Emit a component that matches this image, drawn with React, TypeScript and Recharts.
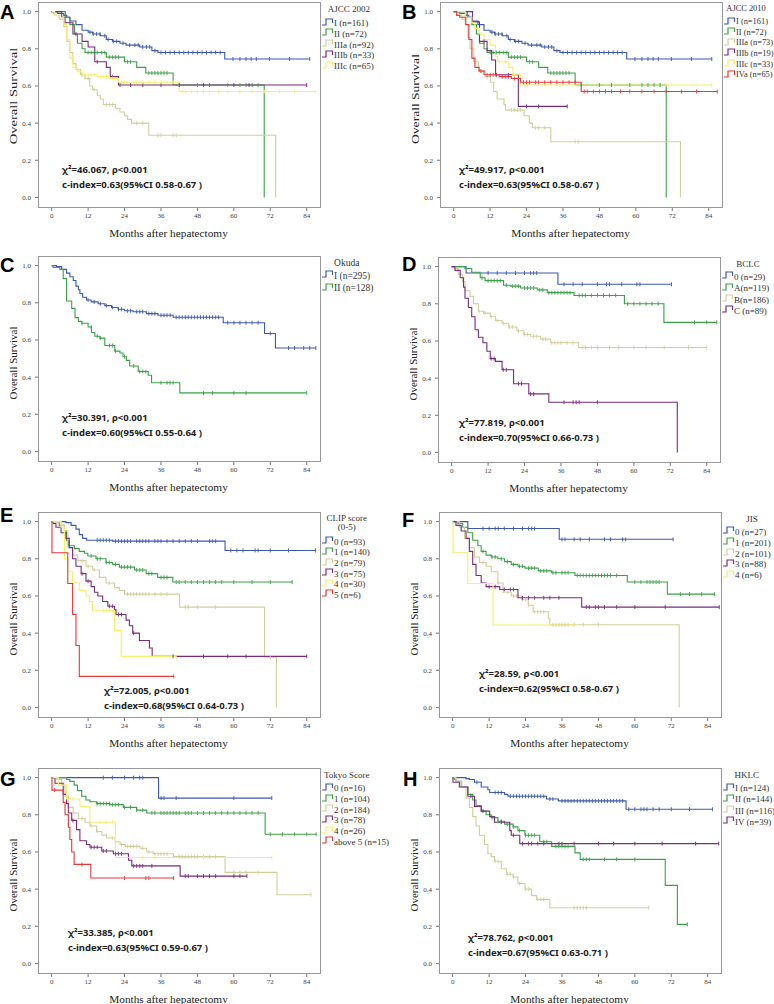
import { LineChart, Line, XAxis, YAxis } from "recharts"

// step points are [month, survival]; censor lists are months
const A_I = [[0, 1], [2, 0.99], [4, 0.98], [5, 0.97], [6, 0.95], [8, 0.93], [10, 0.9], [12, 0.89], [13.5, 0.88], [16, 0.87], [18, 0.85], [20, 0.84], [22.5, 0.83], [24.5, 0.82], [29, 0.81], [33, 0.79], [35, 0.78], [57, 0.745]]
const A_I_c = [12.6, 13.7, 14.8, 15.9, 17.5, 18.6, 20.3, 21.4, 23.5, 25.7, 27.4, 28.5, 30, 31.2, 32.3, 34, 36, 37.5, 39, 40.5, 42, 43.5, 45, 46.5, 48, 49.5, 51, 52.5, 54, 55.5, 59.7, 62, 64, 65.7, 67.4, 71.7, 78.3, 85]
const A_II = [[0, 1], [4.5, 0.97], [6, 0.93], [7.5, 0.88], [8.5, 0.83], [10, 0.8], [11, 0.78], [18, 0.755], [24, 0.73], [28, 0.7], [31, 0.67], [40, 0.605], [70, 0]]
const A_II_c = [12, 13, 14, 15, 16.5, 17.5, 19, 20, 21, 22, 25, 26, 32, 33, 34, 35, 36, 37, 38, 42, 48, 52, 58, 62, 64, 66, 68]
const A_IIIa = [[0, 1], [0.5, 0.99], [1, 0.98], [2.5, 0.96], [4, 0.92], [5, 0.84], [6, 0.78], [7, 0.72], [8, 0.69], [9.5, 0.66], [11, 0.64], [12.5, 0.6], [13.5, 0.58], [15, 0.55], [16, 0.53], [17, 0.5], [21, 0.48], [22.5, 0.46], [24, 0.44], [25, 0.42], [26.3, 0.4], [32, 0.335], [73.8, 0]]
const A_IIIa_c = [10, 12, 14, 18, 19, 20, 28, 30, 35, 36, 40, 41]
const A_IIIb = [[0, 1], [3.3, 0.97], [4.4, 0.94], [7, 0.88], [10, 0.84], [12, 0.81], [14.2, 0.73], [18, 0.7], [19.3, 0.65], [22, 0.605]]
const A_IIIb_c = [8, 15, 20, 22.5, 26, 30, 36, 42, 50, 60, 65, 84]
const A_IIIc = [[0, 1], [1, 0.98], [2, 0.97], [4, 0.93], [5, 0.85], [6, 0.75], [7, 0.7], [8.4, 0.68], [10, 0.66], [15, 0.65], [19, 0.64], [22, 0.62], [42, 0.57]]
const A_IIIc_c = [9, 11, 12, 13, 14, 16, 17, 18, 20, 23, 24, 25, 27, 28, 30, 32, 34, 36, 38, 40, 43, 44, 46, 48, 50, 52, 55, 58, 62, 66, 70, 75, 80, 86.8]

const B_IIIa = [[0, 1], [1, 0.98], [2.7, 0.96], [3.8, 0.93], [4.7, 0.86], [5.4, 0.8], [6.6, 0.73], [8.2, 0.68], [10.4, 0.65], [12.1, 0.62], [13.2, 0.57], [14.3, 0.53], [16.6, 0.5], [17.1, 0.47], [23.2, 0.44], [24.9, 0.4], [26, 0.375], [32, 0.3], [74.7, 0]]
const B_IIIa_c = [9, 11, 19, 20, 21, 22, 27, 28, 30, 40, 41]
const B_IIIb = [[0, 1], [6.2, 0.945], [8.5, 0.84], [11, 0.79], [12.5, 0.74], [13.8, 0.66], [21.3, 0.49]]
const B_IIIb_c = [10, 14, 18, 24, 28, 37.4]
const B_IIIc = [[0, 1], [3.8, 0.97], [6, 0.94], [7, 0.91], [8.5, 0.88], [10, 0.85], [12, 0.82], [13.8, 0.76], [14.5, 0.73], [18, 0.7], [19.5, 0.66], [22, 0.605]]
const B_IIIc_c = [9, 15, 17, 20, 24, 30, 35, 40, 50, 60, 70, 85]

const C_I = [[0, 1], [1.6, 0.995], [3.3, 0.98], [4.9, 0.96], [6, 0.94], [7.1, 0.92], [8, 0.89], [8.8, 0.87], [9.3, 0.85], [10.2, 0.83], [11.5, 0.815], [13, 0.805], [15.3, 0.795], [17.5, 0.785], [19.7, 0.775], [21.9, 0.765], [24, 0.757], [26.8, 0.752], [31.2, 0.742], [35, 0.733], [40, 0.722], [56.5, 0.693], [70.1, 0.635], [73.7, 0.557]]
const C_I_c = [12, 14, 16, 18, 20, 22, 23, 25, 26, 28, 29, 30, 32, 33, 34, 36, 37, 38, 39, 41, 42, 43, 44, 45, 46, 47, 48, 49, 50, 51, 52, 53, 54, 55, 58, 60, 62, 64, 66, 68, 72, 78, 80, 83, 85, 87]
const C_II = [[0, 1], [0.5, 0.99], [2.7, 0.98], [3.8, 0.93], [4.9, 0.81], [6.6, 0.77], [7.7, 0.72], [8.8, 0.7], [9.9, 0.69], [12, 0.67], [13.1, 0.64], [14.2, 0.62], [15.9, 0.61], [17.5, 0.57], [20.8, 0.54], [22.5, 0.53], [23.5, 0.51], [24.6, 0.49], [25.7, 0.46], [28.5, 0.43], [31.8, 0.41], [32.9, 0.37], [42.2, 0.315]]
const C_II_c = [10, 13, 15, 16, 19, 20, 21, 24, 27, 29, 30, 31, 36, 38, 39, 40, 50, 53, 60, 64, 84]

const D_0 = [[0, 1], [4.75, 0.966], [35, 0.905]]
const D_0_c = [12, 15, 18, 21, 24, 26, 27, 28, 37, 40, 43, 48, 51, 52, 56, 61, 62, 72.4]
const D_A = [[0, 1], [4.4, 0.99], [6.6, 0.97], [9.4, 0.94], [11, 0.925], [17.1, 0.9], [19.3, 0.895], [22.7, 0.885], [28.2, 0.875], [31.5, 0.86], [40.3, 0.845], [56.9, 0.8], [69.9, 0.7]]
const D_A_c = [10, 12, 13, 14, 15, 16, 18, 20, 21, 22, 24, 25, 26, 27, 29, 30, 32, 33, 34, 35, 36, 37, 38, 39, 42, 43, 44, 46, 48, 50, 52, 54, 58, 60, 62, 64, 66, 68, 80, 84, 87.3]
const D_B = [[0, 1], [1.1, 0.99], [2.2, 0.96], [3.6, 0.92], [4.4, 0.87], [6, 0.84], [7.2, 0.8], [8.8, 0.76], [10.5, 0.75], [12.7, 0.73], [14.4, 0.71], [16.6, 0.695], [18.8, 0.675], [21.5, 0.655], [23.8, 0.635], [26, 0.625], [29.3, 0.61], [32.6, 0.59], [41.8, 0.565]]
const D_B_c = [9, 11, 13, 15, 17, 19, 20, 22, 24, 25, 27, 28, 30, 31, 33, 34, 35, 36, 38, 40, 43, 44, 46, 48, 52, 55, 60, 64, 70, 78, 84]
const D_C = [[0, 1], [1.1, 0.98], [2.8, 0.94], [3.9, 0.89], [4.4, 0.83], [5.5, 0.78], [6.6, 0.73], [7.7, 0.66], [8.8, 0.62], [10.3, 0.59], [11.6, 0.545], [12.7, 0.505], [14.4, 0.49], [16.6, 0.445], [20.4, 0.37], [25.4, 0.315], [32, 0.27], [74.3, 0]]
const D_C_c = [13, 14, 17, 18, 22, 23, 26, 27, 37, 40, 41, 42, 48]

const E_0 = [[0, 1], [4.7, 0.995], [6.4, 0.98], [8, 0.96], [9.1, 0.93], [10.2, 0.91], [11.5, 0.9], [20, 0.895], [57.1, 0.845]]
const E_0_c = [15, 16, 17, 18, 19, 21, 22, 23, 24, 25, 26, 28, 29, 30, 31, 32, 34, 35, 36, 38, 40, 42, 44, 46, 48, 52, 53, 54, 59, 61, 63, 67, 68, 72, 78, 86.9]
const E_1 = [[0, 1], [2.5, 0.98], [4.2, 0.95], [4.9, 0.9], [5.5, 0.87], [7.5, 0.855], [9.1, 0.84], [10.8, 0.83], [11.9, 0.815], [14.6, 0.8], [17.9, 0.78], [20.1, 0.77], [22.3, 0.755], [27.3, 0.74], [31.1, 0.72], [34.9, 0.7], [39.9, 0.675]]
const E_1_c = [13, 15, 16, 18, 19, 21, 23, 24, 25, 26, 28, 29, 30, 32, 33, 36, 37, 38, 41, 42, 44, 46, 48, 50, 52, 54, 56, 60, 66, 72, 79.2]
const E_2 = [[0, 1], [3.1, 0.98], [4.2, 0.95], [5.3, 0.86], [6.9, 0.82], [8.6, 0.79], [11.3, 0.76], [13.5, 0.74], [15.7, 0.7], [17.9, 0.67], [20.7, 0.645], [22.3, 0.63], [24, 0.61], [42.1, 0.54], [70.1, 0.27], [74, 0]]
const E_2_c = [10, 12, 14, 19, 25, 26, 27, 28, 29, 30, 31, 32, 34, 36, 38, 44, 45, 48, 54, 72]
const E_3 = [[0, 1], [0.5, 0.99], [1.4, 0.97], [3.1, 0.94], [4.7, 0.91], [5.8, 0.86], [6.9, 0.8], [8, 0.76], [9.7, 0.72], [11.3, 0.68], [13, 0.65], [14.1, 0.62], [15.2, 0.6], [16.8, 0.57], [18.5, 0.545], [20.7, 0.525], [21.2, 0.5], [24.5, 0.47], [25.6, 0.44], [26.7, 0.4], [28.9, 0.36], [32.2, 0.32], [33.1, 0.275]]
const E_3_c = [10, 12, 19, 20, 22, 23, 27, 40, 50, 58, 64, 84]
const E_4 = [[0, 1], [3.1, 0.97], [4.2, 0.8], [5.3, 0.73], [6.9, 0.67], [9.1, 0.63], [11.3, 0.6], [12.4, 0.57], [13.5, 0.52], [20.7, 0.415], [22.9, 0.275]]
const E_4_c = [17, 18, 19, 20, 36, 41]
const E_5 = [[0, 1], [0.1, 0.833], [5.3, 0.667], [6.9, 0.5], [8, 0.333], [9.1, 0.167]]
const E_5_c = [40.2]

const F_0 = [[0, 1], [5, 0.963], [35.1, 0.905]]
const F_0_c = [10, 12, 14, 15, 17, 20, 23, 25, 26, 27, 36, 37, 40, 42, 45, 50, 52, 56, 57, 72.6]
const F_1 = [[0, 1], [1.7, 0.99], [3.3, 0.97], [5, 0.94], [6.6, 0.9], [8.3, 0.87], [9.4, 0.84], [11, 0.82], [12.7, 0.81], [14.9, 0.8], [17.1, 0.785], [19.3, 0.77], [21.5, 0.76], [23.8, 0.75], [28.2, 0.735], [32.6, 0.725], [40.3, 0.71], [57.5, 0.675], [70.7, 0.61]]
const F_1_c = [10, 13, 14, 16, 18, 20, 22, 23, 25, 26, 27, 29, 30, 31, 33, 34, 36, 37, 38, 41, 42, 43, 44, 45, 46, 47, 48, 49, 50, 51, 52, 54, 60, 62, 64, 65, 66, 67, 68, 75, 78, 82, 86.2]
const F_2 = [[0, 1], [2.2, 0.97], [3.9, 0.91], [5.5, 0.86], [7.2, 0.81], [8.8, 0.78], [11, 0.76], [12.7, 0.73], [14.9, 0.67], [16.6, 0.62], [19.3, 0.6], [22.7, 0.58], [24.9, 0.55], [26.5, 0.515], [31.5, 0.48], [32, 0.445], [74.6, 0]]
const F_2_c = [10, 15, 18, 20, 21, 23, 24, 25, 27, 28, 29, 30, 33, 34, 35, 36, 37, 38, 40, 43, 48]
const F_3 = [[0, 1], [1.1, 0.98], [2.8, 0.95], [4.4, 0.91], [5.5, 0.84], [6.6, 0.77], [7.7, 0.71], [9.4, 0.67], [11, 0.65], [15.5, 0.635], [21.5, 0.59], [42.5, 0.54]]
const F_3_c = [12, 14, 17, 19, 20, 23, 25, 27, 30, 32, 35, 44, 45, 47, 48, 50, 54, 60, 70, 87.8]
const F_4 = [[0, 1], [0.1, 0.833], [5, 0.667], [13.3, 0.444]]
const F_4_c = [40]

const G_0 = [[0, 1], [35.2, 0.89]]
const G_0_c = [17, 20, 24, 27, 29, 30, 36, 37, 41, 60, 72.5]
const G_1 = [[0, 1], [4.9, 0.99], [6, 0.98], [7.4, 0.96], [8.5, 0.93], [9.9, 0.9], [11.3, 0.88], [12.6, 0.87], [14.8, 0.86], [19.2, 0.855], [23.6, 0.84], [28, 0.825], [31.3, 0.81], [70.3, 0.695]]
const G_1_c = [15, 16, 17, 18, 19, 20, 21, 22, 24, 26, 28, 30, 33, 34, 36, 37, 38, 39, 40, 41, 42, 44, 45, 46, 48, 50, 52, 54, 56, 58, 60, 62, 64, 66, 68, 72, 76, 80, 84, 87.1]
const G_2 = [[0, 1], [1.6, 0.99], [3.3, 0.96], [4.4, 0.9], [5.5, 0.84], [7.1, 0.81], [8.8, 0.78], [11, 0.76], [12.6, 0.74], [14.8, 0.71], [16.5, 0.69], [18.1, 0.675], [20.9, 0.655], [22.5, 0.64], [24.2, 0.63], [29.1, 0.62], [31.3, 0.6], [33.5, 0.59], [40.1, 0.575], [57.1, 0.49], [74.2, 0.37]]
const G_2_c = [10, 13, 15, 18, 20, 23, 25, 26, 27, 28, 30, 32, 34, 35, 36, 37, 38, 42, 43, 44, 45, 46, 47, 48, 50, 52, 54, 60, 62, 64, 68, 85.4]
const G_3 = [[0, 1], [1.1, 0.97], [3.8, 0.91], [4.9, 0.86], [5.5, 0.81], [6.6, 0.77], [8.2, 0.72], [9.3, 0.66], [11.5, 0.64], [12.6, 0.625], [16.5, 0.605], [20.3, 0.59], [25.3, 0.555], [26.4, 0.525], [42.3, 0.47]]
const G_3_c = [7, 13, 14, 15, 17, 18, 21, 22, 23, 27, 28, 29, 30, 33, 44, 45, 48, 50, 52, 54, 60, 62, 64.3]
const G_4 = [[0, 1], [2.2, 0.96], [4.9, 0.885], [9.3, 0.845], [12.6, 0.76], [21, 0.57]]
const G_4_c = [7, 16, 18, 20, 30, 34, 50, 72.5]
const G_5 = [[0, 1], [0.1, 0.933], [3.8, 0.867], [4.4, 0.8], [5.5, 0.733], [6, 0.667], [6.6, 0.6], [7.4, 0.533], [12.9, 0.46]]
const G_5_c = [1, 10, 24, 31, 32, 40.1]

const H_I = [[0, 1], [4.4, 0.995], [5.5, 0.99], [7.2, 0.975], [9.4, 0.95], [11.6, 0.935], [12.2, 0.92], [17.1, 0.91], [18.2, 0.9], [30.9, 0.885], [34.8, 0.875], [57.1, 0.83]]
const H_I_c = [8, 14, 15, 16, 19, 20, 21, 22, 23, 24, 25, 26, 27, 28, 29, 30, 32, 33, 36, 37, 38, 39, 40, 41, 42, 43, 44, 45, 46, 47, 48, 49, 50, 51, 52, 53, 54, 55, 56, 58, 60, 62, 63, 64, 66, 68, 72, 78, 85.6]
const H_II = [[0, 1], [0.5, 0.99], [1.1, 0.98], [2.8, 0.95], [5, 0.91], [6.6, 0.88], [7.7, 0.85], [9.4, 0.82], [11, 0.8], [12.7, 0.785], [14.9, 0.765], [17.1, 0.75], [19.9, 0.735], [21.5, 0.715], [23.8, 0.69], [28.7, 0.655], [32.6, 0.63], [40.3, 0.595], [42, 0.56], [70, 0.42], [74, 0.21]]
const H_II_c = [13, 15, 16, 18, 20, 22, 24, 25, 26, 27, 30, 31, 34, 35, 36, 37, 38, 43, 44, 45, 50, 54, 60, 77.3]
const H_III = [[0, 1], [1.1, 0.98], [3, 0.95], [4.4, 0.89], [5.5, 0.84], [6.6, 0.79], [7.7, 0.74], [8.8, 0.69], [10.5, 0.64], [11.6, 0.59], [12.7, 0.575], [13.8, 0.55], [16, 0.51], [17.7, 0.48], [19.9, 0.465], [21.5, 0.43], [23.8, 0.4], [26, 0.365], [27.6, 0.345], [32, 0.3]]
const H_III_c = [14, 15, 18, 19, 20, 22, 24, 25, 28, 29, 30, 40, 41, 42, 43, 44, 64.6]
const H_IV = [[0, 1], [0.1, 0.975], [2.2, 0.95], [5, 0.9], [7.2, 0.845], [9.4, 0.82], [12.2, 0.79], [13.8, 0.76], [18.8, 0.715], [19.3, 0.69], [22.1, 0.645]]
const H_IV_c = [6, 10, 16, 20, 23, 25, 26, 28, 30, 35, 36, 40, 48, 53, 60, 69, 80, 87.6]

const A_labels = ["I (n=161)", "II (n=72)", "IIIa (n=92)", "IIIb (n=33)", "IIIc (n=65)"]
const B_labels = ["I (n=161)", "II (n=72)", "IIIa (n=73)", "IIIb (n=19)", "IIIc (n=33)", "IVa (n=65)"]
const C_labels = ["I (n=295)", "II (n=128)"]
const D_labels = ["0 (n=29)", "A(n=119)", "B(n=186)", "C (n=89)"]
const E_labels = ["0 (n=93)", "1 (n=140)", "2 (n=79)", "3 (n=75)", "4 (n=30)", "5 (n=6)"]
const F_labels = ["0 (n=27)", "1 (n=201)", "2 (n=101)", "3 (n=88)", "4 (n=6)"]
const G_labels = ["0 (n=16)", "1 (n=104)", "2 (n=184)", "3 (n=78)", "4 (n=26)", "above 5 (n=15)"]
const H_labels = ["I (n=124)", "II (n=144)", "III (n=116)", "IV (n=39)"]

const chiTexts = ["χ²=46.067, ρ<0.001", "χ²=49.917, ρ<0.001", "χ²=30.391, ρ<0.001", "χ²=77.819, ρ<0.001", "χ²=72.005, ρ<0.001", "χ²=28.59, ρ<0.001", "χ²=33.385, ρ<0.001", "χ²=78.762, ρ<0.001"]
const cTexts = ["c-index=0.63(95%CI 0.58-0.67 )", "c-index=0.63(95%CI 0.58-0.67 )", "c-index=0.60(95%CI 0.55-0.64 )", "c-index=0.70(95%CI 0.66-0.73 )", "c-index=0.68(95%CI 0.64-0.73 )", "c-index=0.62(95%CI 0.58-0.67 )", "c-index=0.63(95%CI 0.59-0.67 )", "c-index=0.67(95%CI 0.63-0.71 )"]

const X_TICKS = [0, 12, 24, 36, 48, 60, 72, 84]
const Y_TICKS = [0, 0.2, 0.4, 0.6, 0.8, 1]

const BLUE = "#3d59ad"
const GREEN = "#3ba248"
const TAN = "#d2ce9c"
const PURPLE = "#7c2b7d"
const YELLOW = "#f6f06c"
const RED = "#e5393b"

const PW = 283 // plot frame width
const PH = 206 // plot frame height
const YW = 38

function buildCurve(steps, cens) {
  const pts = steps.map(([t, s]) => ({ t, s, c: false }))
  cens.forEach((t) => {
    let s = steps[0][1]
    for (const [st, sv] of steps) if (st <= t) s = sv
    pts.push({ t, s, c: true })
  })
  pts.sort((a, b) => a.t - b.t)
  return pts
}

function mk(labels, colors, curves) {
  return labels.map((name, i) => ({ name, color: colors[i], data: buildCurve(curves[i][0], curves[i][1]) }))
}

const panels = [
  {
    letter: "A", left: 38, top: 2, lx: 0, ly: 2, title: ["AJCC 2002"], tCx: 28, tTop: 7, eTop: 21, rowH: 10.75, fs: 9,
    statX: 24, statY: 167, ylDy: -9.5, ylScale: 1.32,
    series: mk(A_labels, [BLUE, GREEN, TAN, PURPLE, YELLOW], [[A_I, A_I_c], [A_II, A_II_c], [A_IIIa, A_IIIa_c], [A_IIIb, A_IIIb_c], [A_IIIc, A_IIIc_c]]),
  },
  {
    letter: "B", left: 440, top: 1.5, lx: 402, ly: 3, title: ["AJCC 2010"], tCx: 23, tTop: 7.5, eTop: 20.5, rowH: 10.65, fs: 8.4,
    statX: 19, statY: 167.5, ylDy: -6, ylScale: 1.23,
    series: mk(B_labels, [BLUE, GREEN, TAN, PURPLE, YELLOW, RED], [[A_I, A_I_c], [A_II, A_II_c], [B_IIIa, B_IIIa_c], [B_IIIb, B_IIIb_c], [B_IIIc, B_IIIc_c], [A_IIIc, A_IIIc_c]]),
  },
  {
    letter: "C", left: 38, top: 256, lx: 0, ly: 258, title: ["Okuda"], tCx: 25.7, tTop: 7.3, eTop: 19.7, rowH: 12.6, fs: 9.5,
    statX: 24, statY: 161, ylDy: 4, ylScale: 1,
    series: mk(C_labels, [BLUE, GREEN], [[C_I, C_I_c], [C_II, C_II_c]]),
  },
  {
    letter: "D", left: 438, top: 257, lx: 402, ly: 257, title: ["BCLC"], tCx: 27, tTop: 7, eTop: 19.7, rowH: 11.4, fs: 9,
    statX: 21, statY: 165, ylDy: 4, ylScale: 1,
    series: mk(D_labels, [BLUE, GREEN, TAN, PURPLE], [[D_0, D_0_c], [D_A, D_A_c], [D_B, D_B_c], [D_C, D_C_c]]),
  },
  {
    letter: "E", left: 38, top: 512, lx: 0, ly: 508, title: ["CLIP score", "(0-5)"], tCx: 25.7, tTop: 6.3, eTop: 29.7, rowH: 10.65, fs: 9,
    statX: 66, statY: 178, ylDy: 4, ylScale: 1,
    series: mk(E_labels, [BLUE, GREEN, TAN, PURPLE, YELLOW, RED], [[E_0, E_0_c], [E_1, E_1_c], [E_2, E_2_c], [E_3, E_3_c], [E_4, E_4_c], [E_5, E_5_c]]),
  },
  {
    letter: "F", left: 439, top: 512, lx: 402, ly: 513, title: ["JIS"], tCx: 30, tTop: 7.3, eTop: 19.7, rowH: 10.9, fs: 9,
    statX: 40, statY: 161, ylDy: 4, ylScale: 1,
    series: mk(F_labels, [BLUE, GREEN, TAN, PURPLE, YELLOW], [[F_0, F_0_c], [F_1, F_1_c], [F_2, F_2_c], [F_3, F_3_c], [F_4, F_4_c]]),
  },
  {
    letter: "G", left: 38, top: 768, lx: 0, ly: 772, title: ["Tokyo Score"], tCx: 25.7, tTop: 7, eTop: 20.3, rowH: 10.7, fs: 9,
    statX: 30, statY: 164, ylDy: 4, ylScale: 1,
    series: mk(G_labels, [BLUE, GREEN, TAN, PURPLE, YELLOW, RED], [[G_0, G_0_c], [G_1, G_1_c], [G_2, G_2_c], [G_3, G_3_c], [G_4, G_4_c], [G_5, G_5_c]]),
  },
  {
    letter: "H", left: 439, top: 768, lx: 403, ly: 772, title: ["HKLC"], tCx: 24.7, tTop: 7, eTop: 20.3, rowH: 11.1, fs: 9,
    statX: 29, statY: 169, ylDy: 4, ylScale: 1,
    series: mk(H_labels, [BLUE, GREEN, TAN, PURPLE], [[H_I, H_I_c], [H_II, H_II_c], [H_III, H_III_c], [H_IV, H_IV_c]]),
  },
]

const serif = "'Liberation Serif', 'Times New Roman', serif"

function censorDot(color) {
  return (p) => {
    if (!p.payload || !p.payload.c) return <g key={`n${p.index}`} />
    return <line key={`c${p.index}`} x1={p.cx} x2={p.cx} y1={p.cy - 2} y2={p.cy + 2} stroke={color} strokeWidth={0.9} />
  }
}

function Panel({ cfg, idx }) {
  return (
    <>
      <div style={{ position: "absolute", left: cfg.lx, top: Math.max(cfg.ly - 4.6, 0), fontFamily: "'Liberation Sans', Arial, sans-serif", fontWeight: 700, fontSize: 20, lineHeight: "24px", color: "#000" }}>
        {cfg.letter}
      </div>
      <div style={{ position: "absolute", left: cfg.left - YW, top: cfg.top, width: YW + PW + 70, height: PH + 40 }}>
        <LineChart width={YW + PW} height={PH + 34} margin={{ top: 0, right: 0, bottom: 0, left: 0 }}>
          <XAxis
            type="number"
            dataKey="t"
            domain={[-4.5, 88.7]}
            ticks={X_TICKS}
            allowDataOverflow
            axisLine={false}
            tickSize={3}
            tickMargin={2}
            tickLine={{ stroke: "#777" }}
            tick={{ fontSize: 7, fill: "#444", fontFamily: serif }}
            height={34}
            label={{ value: "Months after hepatectomy", position: "insideBottom", offset: 5, dx: -11, fontSize: 11.3, fill: "#222", fontFamily: serif }}
          />
          <YAxis
            type="number"
            dataKey="s"
            domain={[-0.057, 1.052]}
            ticks={Y_TICKS}
            allowDataOverflow
            axisLine={false}
            width={YW}
            tickSize={3}
            tickMargin={4}
            tickLine={{ stroke: "#777" }}
            tickFormatter={(v) => v.toFixed(1)}
            tick={{ fontSize: 7, fill: "#444", fontFamily: serif }}
          />
          {cfg.series.map((s) => (
            <Line
              key={s.name}
              data={s.data}
              dataKey="s"
              type="stepAfter"
              stroke={s.color}
              strokeWidth={1.1}
              dot={censorDot(s.color)}
              activeDot={false}
              isAnimationActive={false}
            />
          ))}
        </LineChart>
        {/* plot frame */}
        <div style={{ position: "absolute", left: YW, top: 0, width: PW, height: PH, border: "1px solid #999", boxSizing: "border-box", pointerEvents: "none" }} />
        {/* y label */}
        <div
          style={{
            position: "absolute", left: 13 - 60, top: PH / 2 + cfg.ylDy - 7, width: 120, height: 14, textAlign: "center",
            fontFamily: serif, fontSize: 11, lineHeight: "14px", color: "#222",
            transform: `rotate(-90deg) scaleX(${cfg.ylScale})`, whiteSpace: "nowrap",
          }}
        >
          Overall Survival
        </div>
        {/* stats */}
        <div style={{ position: "absolute", left: YW + cfg.statX, top: cfg.statY - 7, fontFamily: "'Noto Sans', sans-serif", fontWeight: 700, fontSize: 9.5, lineHeight: "15px", color: "#222", whiteSpace: "nowrap" }}>
          <div>{chiTexts[idx]}</div>
          <div>{cTexts[idx]}</div>
        </div>
        {/* legend */}
        {cfg.title.map((t, i) => (
          <div key={t} style={{ position: "absolute", left: YW + PW + cfg.tCx - 40, width: 80, top: cfg.tTop + i * 8.4 - 6, textAlign: "center", fontFamily: serif, fontSize: cfg.fs, lineHeight: "12px", color: "#333", whiteSpace: "nowrap" }}>
            {t}
          </div>
        ))}
        {cfg.series.map((s, i) => (
          <div key={s.name} style={{ position: "absolute", left: YW + PW + 1, top: cfg.eTop + i * cfg.rowH - 6, height: 12, display: "flex", alignItems: "center", whiteSpace: "nowrap" }}>
            <svg width={12} height={8} style={{ marginTop: -3 }}>
              <path d="M0,7 H4 V1 H10.5 V5" fill="none" stroke={s.color} strokeWidth={1.2} />
            </svg>
            <span style={{ fontFamily: serif, fontSize: cfg.fs, lineHeight: "12px", color: "#333" }}>{s.name}</span>
          </div>
        ))}
      </div>
    </>
  )
}

export default function App() {
  return (
    <div style={{ position: "absolute", left: 0, top: 0, width: 774, height: 1004, background: "#fff", overflow: "hidden" }}>
      {panels.map((p, i) => (
        <Panel key={p.letter} cfg={p} idx={i} />
      ))}
    </div>
  )
}
